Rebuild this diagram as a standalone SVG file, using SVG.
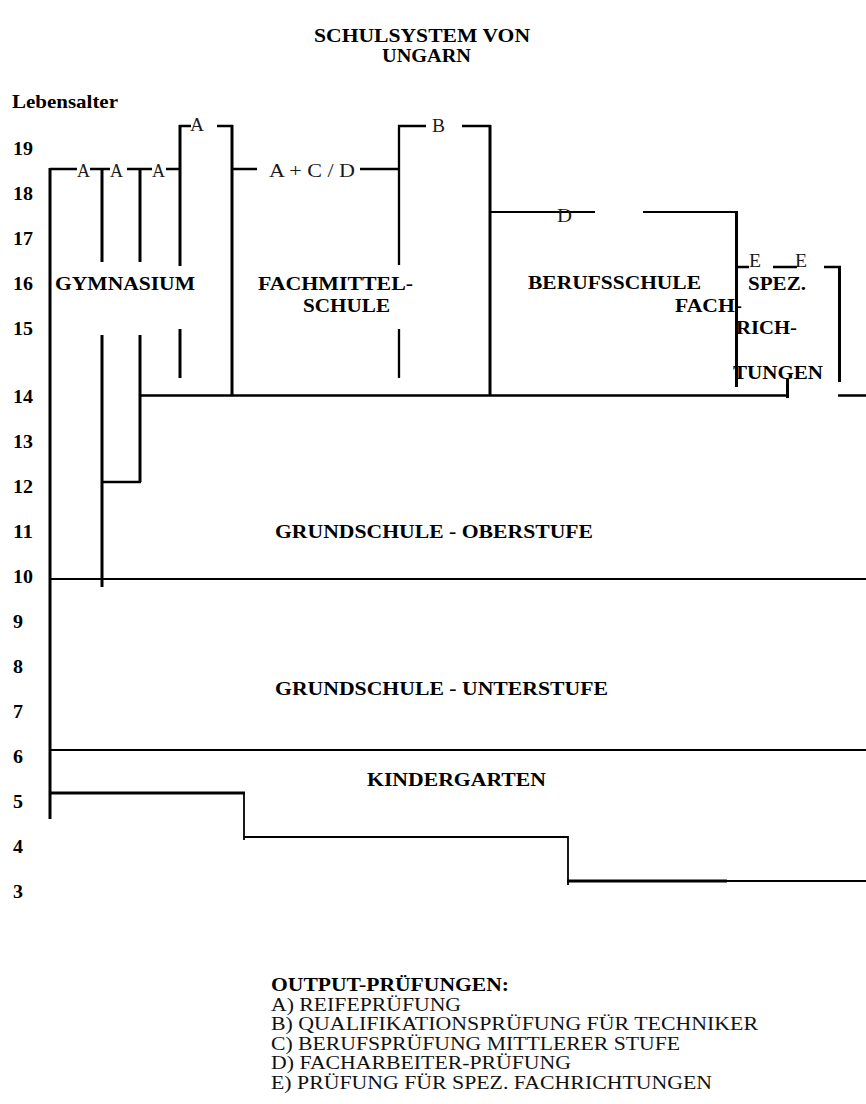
<svg xmlns="http://www.w3.org/2000/svg" width="866" height="1104" viewBox="0 0 866 1104">
<style>
.b{font-family:"Liberation Serif","Times New Roman",serif;font-weight:bold;font-size:19.5px;fill:#000}
.r{font-family:"Liberation Serif","Times New Roman",serif;font-size:18px;fill:#1a1a1a}
.lg{font-family:"Liberation Serif","Times New Roman",serif;font-size:19.5px;fill:#111}
.t{stroke:#000;stroke-width:3;fill:none}
.m{stroke:#000;stroke-width:2.3;fill:none}
.n{stroke:#000;stroke-width:1.8;fill:none}
</style>
<rect width="866" height="1104" fill="#fff"/>
<g id="title">
<text class="b" x="314" y="42" textLength="216" lengthAdjust="spacingAndGlyphs">SCHULSYSTEM VON</text>
<text class="b" x="382" y="62" textLength="89" lengthAdjust="spacingAndGlyphs">UNGARN</text>
</g>
<g id="axis">
<text class="b" x="12" y="108" textLength="106" lengthAdjust="spacingAndGlyphs">Lebensalter</text>
<text class="b" x="13" y="155" textLength="20" lengthAdjust="spacingAndGlyphs">19</text>
<text class="b" x="13" y="199.5" textLength="20" lengthAdjust="spacingAndGlyphs">18</text>
<text class="b" x="13" y="245" textLength="20" lengthAdjust="spacingAndGlyphs">17</text>
<text class="b" x="13" y="290" textLength="20" lengthAdjust="spacingAndGlyphs">16</text>
<text class="b" x="13" y="335" textLength="20" lengthAdjust="spacingAndGlyphs">15</text>
<text class="b" x="13" y="403" textLength="20" lengthAdjust="spacingAndGlyphs">14</text>
<text class="b" x="13" y="448" textLength="20" lengthAdjust="spacingAndGlyphs">13</text>
<text class="b" x="13" y="493" textLength="20" lengthAdjust="spacingAndGlyphs">12</text>
<text class="b" x="13" y="538" textLength="20" lengthAdjust="spacingAndGlyphs">11</text>
<text class="b" x="13" y="583" textLength="20" lengthAdjust="spacingAndGlyphs">10</text>
<text class="b" x="13" y="627.5" textLength="10" lengthAdjust="spacingAndGlyphs">9</text>
<text class="b" x="13" y="672.5" textLength="10" lengthAdjust="spacingAndGlyphs">8</text>
<text class="b" x="13" y="717.5" textLength="10" lengthAdjust="spacingAndGlyphs">7</text>
<text class="b" x="13" y="763" textLength="10" lengthAdjust="spacingAndGlyphs">6</text>
<text class="b" x="13" y="808" textLength="10" lengthAdjust="spacingAndGlyphs">5</text>
<text class="b" x="13" y="852.5" textLength="10" lengthAdjust="spacingAndGlyphs">4</text>
<text class="b" x="13" y="897.5" textLength="10" lengthAdjust="spacingAndGlyphs">3</text>
</g>
<g id="connectors">
<path class="t" d="M50,168V819"/>
<path class="m" d="M50,169H77M90,169H110M127,169H152M166,169H181"/>
<path class="t" d="M102,169V262M102,335V587"/>
<path class="t" d="M140,169V262M140,335V482"/>
<path class="m" d="M102,482H141"/>
<path class="t" d="M180,125V266M180,329V378"/>
<path class="m" d="M179,126H191M217,126H233"/>
<path class="t" d="M232,125V396"/>
<path class="m" d="M232,169H257M360,169H399"/>
<path class="m" d="M399,125V265M399,329V378"/>
<path class="m" d="M398,126H426M462,126H491"/>
<path class="t" d="M490,125V396"/>
<path class="n" d="M490,212H595M643,212H737"/>
<path class="t" d="M736.5,211V387"/>
<path class="m" d="M736,267H749M773,267H797M824,267H841"/>
<path class="t" d="M839.5,266V382"/>
<path class="m" d="M141,395.5H788M838,395.5H866"/>
<path class="t" d="M787.5,379V398"/>
<path class="n" d="M50,579H866"/>
<path class="n" d="M50,750H866"/>
<path class="t" d="M50,793H245"/>
<path class="n" d="M244,792V840"/>
<path class="n" d="M244,837H568"/>
<path class="n" d="M568,836V885"/>
<path class="t" d="M567,881H727"/>
<path class="n" d="M727,881H866"/>
</g>
<g id="exam-labels">
<text class="r" x="77" y="177" textLength="13" lengthAdjust="spacingAndGlyphs">A</text>
<text class="r" x="110" y="177" textLength="13" lengthAdjust="spacingAndGlyphs">A</text>
<text class="r" x="152" y="177" textLength="13" lengthAdjust="spacingAndGlyphs">A</text>
<text class="r" x="190" y="131" textLength="14" lengthAdjust="spacingAndGlyphs">A</text>
<text class="r" x="269" y="177" textLength="86" lengthAdjust="spacingAndGlyphs">A + C / D</text>
<text class="r" x="432" y="132" textLength="13" lengthAdjust="spacingAndGlyphs">B</text>
<text class="r" x="557" y="222" textLength="15" lengthAdjust="spacingAndGlyphs">D</text>
<text class="r" x="749" y="267" textLength="12" lengthAdjust="spacingAndGlyphs">E</text>
<text class="r" x="795" y="267" textLength="12" lengthAdjust="spacingAndGlyphs">E</text>
</g>
<g id="gymnasium">
<text class="b" x="55" y="290" textLength="140" lengthAdjust="spacingAndGlyphs">GYMNASIUM</text>
</g>
<g id="fachmittelschule">
<text class="b" x="258" y="290" textLength="155" lengthAdjust="spacingAndGlyphs">FACHMITTEL-</text>
<text class="b" x="303" y="312" textLength="87" lengthAdjust="spacingAndGlyphs">SCHULE</text>
</g>
<g id="berufsschule">
<text class="b" x="528" y="289" textLength="173" lengthAdjust="spacingAndGlyphs">BERUFSSCHULE</text>
</g>
<g id="spez-fachrichtungen">
<text class="b" x="748" y="290" textLength="58" lengthAdjust="spacingAndGlyphs">SPEZ.</text>
<text class="b" x="675" y="312" textLength="67" lengthAdjust="spacingAndGlyphs">FACH-</text>
<text class="b" x="736" y="334" textLength="61" lengthAdjust="spacingAndGlyphs">RICH-</text>
<text class="b" x="733" y="379" textLength="90" lengthAdjust="spacingAndGlyphs">TUNGEN</text>
</g>
<g id="grundschule-oberstufe">
<text class="b" x="275" y="538" textLength="318" lengthAdjust="spacingAndGlyphs">GRUNDSCHULE - OBERSTUFE</text>
</g>
<g id="grundschule-unterstufe">
<text class="b" x="275" y="695" textLength="333" lengthAdjust="spacingAndGlyphs">GRUNDSCHULE - UNTERSTUFE</text>
</g>
<g id="kindergarten">
<text class="b" x="367" y="786" textLength="179" lengthAdjust="spacingAndGlyphs">KINDERGARTEN</text>
</g>
<g id="legend">
<text class="b" x="271" y="991" textLength="238" lengthAdjust="spacingAndGlyphs">OUTPUT-PRÜFUNGEN:</text>
<text class="lg" x="271" y="1010.5" textLength="190" lengthAdjust="spacingAndGlyphs">A) REIFEPRÜFUNG</text>
<text class="lg" x="271" y="1030" textLength="487" lengthAdjust="spacingAndGlyphs">B) QUALIFIKATIONSPRÜFUNG FÜR TECHNIKER</text>
<text class="lg" x="271" y="1049.5" textLength="409" lengthAdjust="spacingAndGlyphs">C) BERUFSPRÜFUNG MITTLERER STUFE</text>
<text class="lg" x="271" y="1069" textLength="300" lengthAdjust="spacingAndGlyphs">D) FACHARBEITER-PRÜFUNG</text>
<text class="lg" x="271" y="1088.5" textLength="441" lengthAdjust="spacingAndGlyphs">E) PRÜFUNG FÜR SPEZ. FACHRICHTUNGEN</text>
</g>
</svg>
